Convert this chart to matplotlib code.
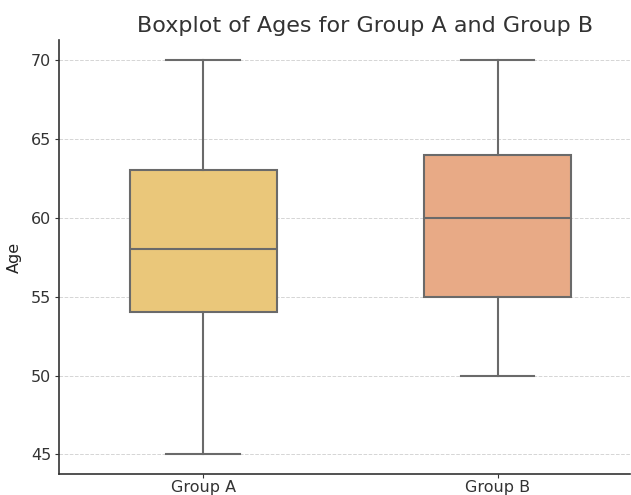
import matplotlib
matplotlib.use("Agg")
import matplotlib.pyplot as plt

groups = ["Group A", "Group B"]
whislo = [45, 50]
q1 = [54, 55]
med = [58, 60]
q3 = [63, 64]
whishi = [70, 70]
colors = ["#EAC77A", "#E8AA86"]

stats = []
for i, g in enumerate(groups):
    stats.append({"label": g, "whislo": whislo[i], "q1": q1[i], "med": med[i],
                  "q3": q3[i], "whishi": whishi[i], "fliers": []})

fig = plt.figure(figsize=(6.31, 4.95), dpi=100)
ax = fig.add_axes([0.0935, 0.042, 0.905, 0.877])

edge = "#6a6a6a"
bp = ax.bxp(stats, positions=[0, 1], widths=0.5, patch_artist=True,
            showfliers=False,
            boxprops=dict(edgecolor=edge, linewidth=1.5),
            whiskerprops=dict(color=edge, linewidth=1.5),
            capprops=dict(color=edge, linewidth=1.5),
            medianprops=dict(color=edge, linewidth=1.5),
            capwidths=0.25)
for patch, c in zip(bp["boxes"], colors):
    patch.set_facecolor(c)

ax.set_xlim(-0.49, 1.45)
ax.set_ylim(43.75, 71.25)
ax.set_yticks([45, 50, 55, 60, 65, 70])
ax.set_xticks([0, 1])
ax.set_xticklabels(groups)
ax.grid(axis="y", linestyle="--", color="#d5d5d5", linewidth=0.7)
ax.set_axisbelow(True)
for s in ["top", "right"]:
    ax.spines[s].set_visible(False)
for s in ["left", "bottom"]:
    ax.spines[s].set_color("#333333")
    ax.spines[s].set_linewidth(1.2)
ax.tick_params(colors="#333333", labelsize=11.5, length=3, pad=2.5)
ax.tick_params(axis="x", pad=1)
ax.set_ylabel("Age", fontsize=11.5, color="#222222", labelpad=7)
fig.text(0.578, 0.948, "Boxplot of Ages for Group A and Group B", fontsize=16,
         color="#333333", ha="center", va="center")

fig.savefig("out.png", dpi=100)
